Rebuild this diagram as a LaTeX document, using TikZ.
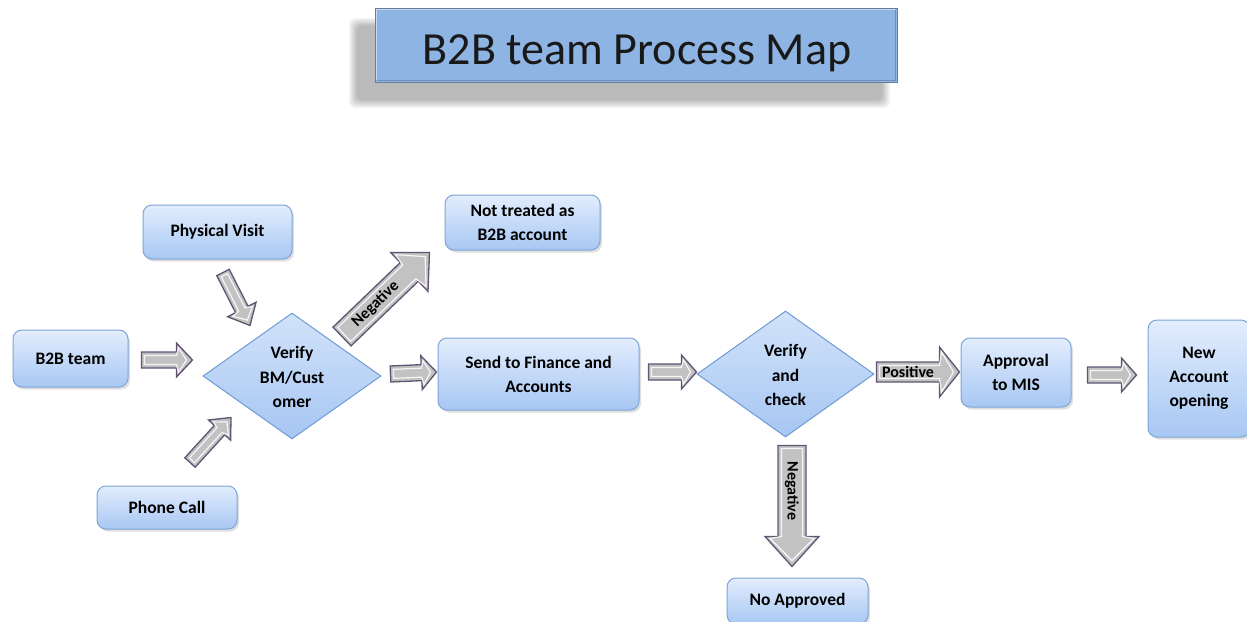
\documentclass[tikz,border=0pt]{standalone}
\usepackage{fontspec}
\setmainfont{Carlito}
\usetikzlibrary{calc,shapes.geometric,shadows}
\definecolor{bxtop}{HTML}{E3EDFD}
\definecolor{bxbot}{HTML}{A7C7F3}
\definecolor{bxline}{HTML}{7FA5D6}
\definecolor{ditop}{HTML}{D2E3FA}
\definecolor{dibot}{HTML}{A6C6F2}
\definecolor{diline}{HTML}{6E9BD3}
\definecolor{ttl}{HTML}{8EB4E3}
\definecolor{arfill}{HTML}{C2C2C2}
\definecolor{arline}{HTML}{615473}
\tikzset{
  box/.style={draw=bxline, line width=1pt, rounded corners=9pt, top color=bxtop, bottom color=bxbot,
    font=\fontsize{17.5}{24}\selectfont\bfseries, align=center, inner sep=0pt,
    drop shadow={opacity=0.25,shadow xshift=2pt,shadow yshift=-2.5pt}},
  dia/.style={diamond, draw=diline, line width=1pt, top color=ditop, bottom color=dibot, inner sep=0pt},
  dialbl/.style={font=\fontsize{17.5}{24.5}\selectfont\bfseries, align=center, inner sep=0pt},
  barrow/.style={draw=arline, line width=1.3pt, fill=arfill, line join=miter},
  bbevel/.style={draw=white, line width=1.2pt, opacity=0.85},
  arlbl/.style={font=\fontsize{16}{18}\selectfont\bfseries, inner sep=0pt}
}
% #1 start, #2 end, #3 shaft half width, #4 head half width, #5 head length, #6 label
\newcommand\blockarr[6]{%
  \path[barrow] let \p1=(#1), \p2=(#2), \n1={atan2(\y2-\y1,\x2-\x1)} in
    ($(\p1)+(\n1+90:#3pt)$) -- ($(\p2)+(\n1+180:#5pt)+(\n1+90:#3pt)$)
    -- ($(\p2)+(\n1+180:#5pt)+(\n1+90:#4pt)$) -- (\p2)
    -- ($(\p2)+(\n1+180:#5pt)+(\n1-90:#4pt)$) -- ($(\p2)+(\n1+180:#5pt)+(\n1-90:#3pt)$)
    -- ($(\p1)+(\n1-90:#3pt)$) -- cycle;
  \path[bbevel] let \p1=(#1), \p2=(#2), \n1={atan2(\y2-\y1,\x2-\x1)} in
    ($(\p1)+(\n1:3pt)+(\n1+90:#3pt-3.5pt)$) -- ($(\p2)+(\n1+180:#5pt)+(\n1+90:#3pt-3.5pt)$)
    -- ($(\p2)+(\n1+180:#5pt-2pt)+(\n1+90:#4pt-5pt)$) -- ($(\p2)+(\n1+180:6pt)$)
    -- ($(\p2)+(\n1+180:#5pt-2pt)+(\n1-90:#4pt-5pt)$) -- ($(\p2)+(\n1+180:#5pt)+(\n1-90:#3pt-3.5pt)$)
    -- ($(\p1)+(\n1:3pt)+(\n1-90:#3pt-3.5pt)$) -- cycle;
  \path let \p1=(#1), \p2=(#2), \n1={atan2(\y2-\y1,\x2-\x1)}, \n2={veclen(\x2-\x1,\y2-\y1)} in
    node[arlbl, rotate=\n1] at ($(\p1)+(\n1:{(\n2-#5)/2})$) {#6};
}
\begin{document}
\begin{tikzpicture}[x=1pt,y=1pt]
\useasboundingbox (0,0) rectangle (1247,-621);
% title shadow (soft)
\foreach \k in {0,...,9}{
  \fill[black, opacity=0.03, rounded corners=6pt] ($(357,-26)+(-\k*0.9,\k*0.9)$) rectangle ($(882,-100)+(\k*0.9,-\k*0.9)$);
}
\node[draw=ttl!70!black, line width=0.6pt, fill=ttl, minimum width=522pt, minimum height=74pt, inner sep=0pt] (title) at (636,-45) {};
\draw[white, opacity=0.5, line width=1.5pt] ($(title.south west)+(2,2)$) -- ($(title.north west)+(2,-2)$) -- ($(title.north east)+(-2,-2)$);
\draw[ttl!60!black, opacity=0.5, line width=1.5pt] ($(title.north east)+(-2,-2)$) -- ($(title.south east)+(-2,2)$) -- ($(title.south west)+(2,2)$);
\node[font=\fontsize{46}{50}\selectfont, text=black!90, anchor=base, inner sep=0pt] (titletext) at (637,-64) {B2B team Process Map};

% nodes
\node[box, minimum width=149pt, minimum height=54pt] (pv) at (217.5,-232) {Physical Visit};
\node[box, minimum width=115pt, minimum height=57pt] (b2b) at (70.5,-358.5) {B2B team};
\node[box, minimum width=140pt, minimum height=43pt] (pc) at (167,-507.5) {Phone Call};
\node[dia, minimum width=178pt, minimum height=126pt] (v1) at (292,-376) {};
\node[dialbl] (v1t) at (292,-377) {Verify\\BM/Cust\\omer};
\node[box, minimum width=155pt, minimum height=55pt] (nt) at (522.5,-222.5) {Not treated as\\B2B account};
\node[box, minimum width=201pt, minimum height=72pt] (send) at (538.5,-374) {Send to Finance and\\Accounts};
\node[dia, minimum width=177pt, minimum height=126pt] (v2) at (785.5,-374) {};
\node[dialbl] (v2t) at (785.5,-375) {Verify\\and\\check};
\node[box, minimum width=110pt, minimum height=69pt] (mis) at (1016,-372.5) {Approval\\to MIS};
\node[box, minimum width=102pt, minimum height=117pt] (new) at (1199,-378.5) {New\\Account\\opening};
\node[box, minimum width=141pt, minimum height=46pt] (na) at (797.5,-601) {No Approved};

% block arrows
\blockarr{$(b2b.east)+(13,-1.5)$}{$(b2b.east)+(64,-1.5)$}{8}{17}{16}{}
\blockarr{$(pv.south)+(5.5,-13)$}{$(v1.north)+(-42,-13)$}{7}{16}{18}{}
\blockarr{$(pc.north)+(23,23)$}{$(v1.south)+(-61,22)$}{7}{15}{17}{}
\blockarr{$(v1.north)+(50,-24)$}{$(nt.south west)+(-15,-2)$}{13}{27}{28}{Negative}
\blockarr{$(v1.east)+(9,2)$}{$(send.west)+(-1,2)$}{8}{17}{15}{}
\blockarr{$(send.east)+(9,2)$}{$(v2.west)+(0,2)$}{8}{17}{15}{}
\blockarr{$(v2.east)+(2,2)$}{$(mis.west)+(-1,0.5)$}{10}{25}{20}{Positive}
\blockarr{$(mis.east)+(16,-2.5)$}{$(new.west)+(-11,3.5)$}{8}{17}{15}{}
\blockarr{$(v2.south)+(6.5,-8)$}{$(na.north)+(-5.5,11)$}{14}{27}{30}{Negative}
\end{tikzpicture}
\end{document}
